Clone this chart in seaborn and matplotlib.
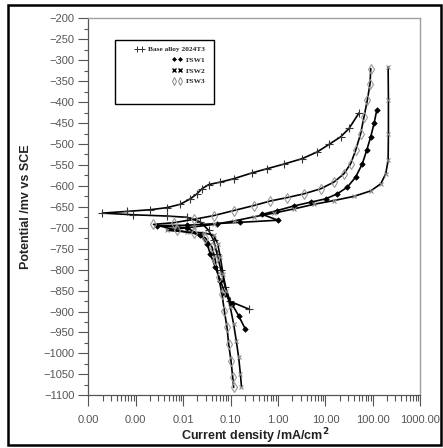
import numpy as np
import pandas as pd
import seaborn as sns
import matplotlib.pyplot as plt
from matplotlib.lines import Line2D
from matplotlib.patches import Rectangle
from matplotlib.ticker import FuncFormatter, LogLocator, MultipleLocator

# current density (mA/cm2) and potential (mV vs SCE)
base_i = [51.0, 31.4, 20.9, 11.9, 6.7, 3.24, 1.33, 0.59, 0.284, 0.116, 0.0608, 0.0344,
          0.0249, 0.0195, 0.0141, 0.00867, 0.00453, 0.00201, 0.000646, 0.000198,
          0.000893, 0.00453, 0.0120, 0.0230, 0.0344, 0.0440, 0.0517, 0.0628, 0.0775,
          0.0989, 0.241]
base_e = [-426, -463, -483, -501, -519, -535, -548, -559, -569, -583, -591, -597,
          -607, -619, -631, -644, -652, -657, -661, -665,
          -669, -672, -675, -686, -706, -730, -762, -802, -842,
          -876, -894]

fsw1_i = [121, 106, 90.2, 74.2, 60.1, 43.4, 29.0, 17.8, 10.1, 4.85, 2.16, 0.959, 0.462,
          1.0, 0.161, 0.0516, 0.012, 0.0028,
          0.012, 0.023, 0.0318, 0.0373, 0.0477, 0.0608, 0.0775, 0.107, 0.148, 0.205]
fsw1_e = [-419, -451, -483, -515, -547, -579, -603, -619, -631, -639, -648, -659, -668,
          -682, -687, -690, -694, -695,
          -700, -718, -738, -762, -794, -826, -858, -882, -910, -942]

fsw2_i = [210, 213, 213, 210, 187, 147, 90.2, 40.0, 15.1, 5.71, 2.16, 0.815, 0.308,
          0.116, 0.0440, 0.0166, 0.0045,
          0.0120, 0.0270, 0.0440, 0.0533, 0.0608, 0.0692, 0.0815, 0.0989, 0.116,
          0.132, 0.148, 0.161, 0.170]
fsw2_e = [-316, -395, -475, -539, -571, -595, -612, -625, -635, -644, -655, -665, -674,
          -684, -692, -698, -706,
          -710, -712, -718, -738, -770, -810, -850, -890, -930,
          -970, -1009, -1049, -1080]

fsw3_i = [90.2, 87.3, 76.6, 65.2, 55.4, 43.4, 34.1, 24.6, 15.1, 7.91, 3.51, 1.56, 0.693,
          0.308, 0.116, 0.0440, 0.0166, 0.00627, 0.00237,
          0.00738, 0.0166, 0.0293, 0.0406, 0.0477, 0.0560, 0.0659, 0.0738, 0.0841,
          0.0912, 0.102, 0.111, 0.116]
fsw3_e = [-320, -356, -395, -435, -475, -515, -547, -571, -591, -607, -619, -628, -636,
          -647, -659, -671, -680, -688, -692,
          -706, -713, -724, -746, -778, -818, -858, -898, -938,
          -978, -1017, -1057, -1081]

labels = ["Base alloy 2024T3", "FSW1", "FSW2", "FSW3"]
xlabel = "Current density /mA/cm$^{\\mathbf{2}}$"
ylabel = "Potential /mv vs SCE"

styles = [
    dict(marker="+", ms=6, mec="#333333", mew=0.8),
    dict(marker="D", ms=2.8, mfc="black", mec="black", mew=0.5),
    dict(marker="x", ms=3.5, mec="#8a8a8a", mew=0.8),
    dict(marker="d", ms=5, mfc="none", mec="#9a9a9a", mew=0.8),
]
legend_styles = [
    dict(marker="+", ms=4, mec="#333333", mew=0.7),
    dict(marker="D", ms=2, mfc="black", mec="black", mew=0.5),
    dict(marker="x", ms=3, mec="black", mew=1.0),
    dict(marker="d", ms=4, mfc="none", mec="#888888", mew=0.7),
]

sns.set_style("ticks")
plt.rcParams["font.family"] = ["Liberation Sans", "DejaVu Sans"]

fig = plt.figure(figsize=(4.43, 4.48), dpi=100)
ax = fig.add_axes([0.1993, 0.1176, 0.7494, 0.8415])

data = [(base_i, base_e), (fsw1_i, fsw1_e), (fsw2_i, fsw2_e), (fsw3_i, fsw3_e)]
for (xi, ye), st in zip(data, styles):
    df = pd.DataFrame({"i": xi, "e": ye})
    sns.lineplot(data=df, x="i", y="e", sort=False, estimator=None, color="black",
                 lw=1.2, legend=False, ax=ax, **st)

ax.set_xscale("log")
ax.set_xlim(1e-4, 1e3)
ax.set_ylim(-1100, -200)

ax.xaxis.set_major_locator(LogLocator(base=10, numticks=20))
ax.xaxis.set_minor_locator(LogLocator(base=10, subs=np.arange(2, 10), numticks=20))
ax.xaxis.set_major_formatter(FuncFormatter(lambda v, p: f"{v:.2f}"))
ax.yaxis.set_major_locator(MultipleLocator(50))
ax.yaxis.set_minor_locator(MultipleLocator(25))

ax.tick_params(which="both", colors="#555555", labelcolor="#555555", labelsize=8, width=0.8)
ax.tick_params(axis="x", which="major", length=8, pad=6)
ax.tick_params(axis="x", which="minor", length=4)
ax.tick_params(axis="y", which="major", length=7, pad=3)
ax.tick_params(axis="y", which="minor", length=3)

for side in ["left", "bottom"]:
    ax.spines[side].set_color("#555555")
    ax.spines[side].set_linewidth(0.9)
for side in ["top", "right"]:
    ax.spines[side].set_color("#a0a0a0")
    ax.spines[side].set_linewidth(1.0)

ax.set_xlabel(xlabel, fontsize=9, fontweight="bold", color="#222222")
ax.set_ylabel(ylabel, fontsize=9, fontweight="bold", color="#222222")
ax.xaxis.set_label_coords(0.503, -0.083)
ax.yaxis.set_label_coords(-0.17, 0.5)

handles = [Line2D([], [], ls="none", color="black", **st) for st in legend_styles]
leg = ax.legend(handles, labels, loc="upper right", bbox_to_anchor=(0.352, 0.926),
                numpoints=2, frameon=False, markerfirst=False, handlelength=1.3,
                handletextpad=0.5, labelspacing=0.6, borderaxespad=0, borderpad=0,
                prop=dict(family=["Liberation Serif", "DejaVu Serif"], weight="bold", size=5.3))
# put the markers in front of the right-aligned text
for col in leg._legend_handle_box.get_children():
    for item in col.get_children():
        item.get_children().reverse()
ax.add_patch(Rectangle((0.081, 0.772), 0.299, 0.170, transform=ax.transAxes,
                       fill=False, ec="black", lw=1.0))

fig.add_artist(Rectangle((0.018, 0.007), 0.977, 0.982, transform=fig.transFigure,
                         fill=False, ec="black", lw=1.8))

fig.savefig("out.png", dpi=100)
